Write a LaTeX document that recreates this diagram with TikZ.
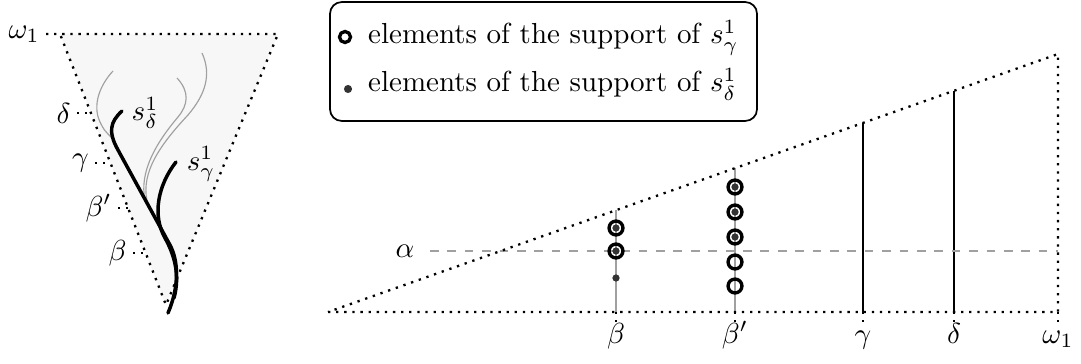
\documentclass[tikz,border=0pt]{standalone}
\definecolor{mDot}{RGB}{51,51,51}
\definecolor{mShade}{RGB}{247,247,247}
\definecolor{mGuide}{RGB}{160,160,160}
\usepackage{amsmath,amssymb}
\usepackage{tikz}
\usetikzlibrary{calc}

\tikzset{
  edge/.style={thick, dotted},
  stem/.style={line width=1.2pt, line cap=round},
  twig/.style={mGuide, line width=0.4pt},
  ring/.style={line width=1.15pt},
}

\begin{document}
\begin{tikzpicture}[x=0.345pt, y=-0.345pt]
    \useasboundingbox (0,0) rectangle (1081,364);
    % Left triangle
    \fill[mShade] (60,34) -- (278,34) -- (166,305) -- cycle;
    \draw[edge] (46,34) -- (278,34) -- (166,305) -- (60,34);
    \node[left, inner sep=2pt] (tw) at (46,34) {$\omega_1$};
    \foreach \y/\xa/\xb/\lab/\nm in {113/77/90/\delta/td, 163/95/110/\gamma/tg,
                                    208/118/128/\beta'/tbp, 253/133/145/\beta/tb} {
      \draw[edge] (\xa,\y) -- (\xb,\y);
      \node[left, inner sep=2pt] (\nm) at (\xa,\y) {$\lab$};
    }
    % Thin branches
    \draw[twig] (113,71) .. controls (100,85) and (92,105) .. (100,122)
      .. controls (104,130) .. (112,138);
    \draw[twig] (177,78) .. controls (190,92) and (188,105) .. (178,117)
      .. controls (156,143) and (139,172) .. (145,200);
    \draw[twig] (202,53) .. controls (212,75) and (205,95) .. (188,115)
      .. controls (160,145) and (141,172) .. (147,201);
    % The two branches
    \draw[stem] (122,111) .. controls (110,122) and (108,132) .. (118,150)
      -- (170,245) .. controls (178,260) and (180,285) .. (168,313);
    \draw[stem] (176,162) .. controls (158,185) and (152,215) .. (165,238)
      .. controls (175,256) and (180,276) .. (174,298);
    \node (sd) at (145,113) {$s^1_\delta$};
    \node (sg) at (201,164) {$s^1_\gamma$};
    % Legend
    \node[draw, semithick, rounded corners, minimum width=147.3pt,
          minimum height=41pt] (key) at (543.5,61.5) {};
    \draw[ring] (345,37) circle (1.9pt);
    \fill[mDot] (348,89) circle (1.4pt);
    \node[anchor=base west] (keyg) at (358,44) {elements of the support of $s^1_\gamma$};
    \node[anchor=base west] (keyd) at (358,92) {elements of the support of $s^1_\delta$};
    % Right triangle
    \draw[mGuide] (616,312) -- (616,210);
    \draw[mGuide] (735,312) -- (735,168);
    \draw (863,312) -- (863,123);
    \draw (954,312) -- (954,91);
    \draw[dashed, mGuide] (430,251) -- (1058,251);
    \node (al) at (405,251) {$\alpha$};
    \draw[edge] (328,312) -- (1058,312) -- (1058,54) -- cycle;
    \foreach \x/\lab/\nm in {616/\beta/xb, 735/\beta'/xbp, 863/\gamma/xg,
                             954/\delta/xd, 1058/\omega_1/xw} {
      \draw[edge] (\x,312) -- (\x,323);
      \node[anchor=base] (\nm) at (\x,343) {$\lab$};
    }
    % Support points
    \foreach \x/\y in {616/228, 616/251, 735/187, 735/212, 735/237} {
      \draw[ring] (\x,\y) circle (2.4pt);
      \fill[mDot] (\x,\y) circle (1.25pt);
    }
    \foreach \y in {262,286} {
      \draw[ring] (735,\y) circle (2.4pt);
    }
    \fill[mDot] (616,278) circle (1.25pt);
  \end{tikzpicture}
\end{document}
